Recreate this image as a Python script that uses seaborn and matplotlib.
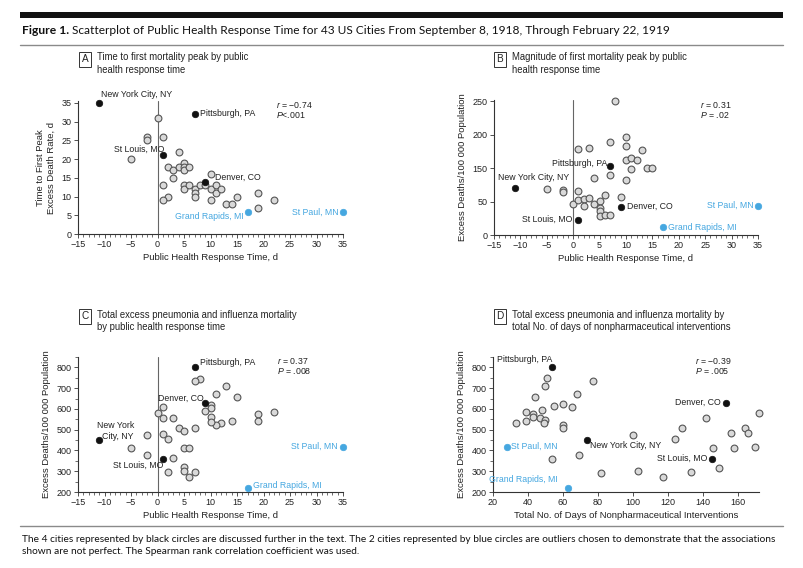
import matplotlib
matplotlib.use("Agg")
import matplotlib.pyplot as plt
import seaborn as sns
from matplotlib.patches import Rectangle
from matplotlib.lines import Line2D
from matplotlib.ticker import MultipleLocator

W, H = 804, 568

# ---- data ----
black_cities = ["New York City, NY", "Pittsburgh, PA", "St Louis, MO", "Denver, CO"]
blue_cities = ["Grand Rapids, MI", "St Paul, MN"]

# Panel A: response time (d) vs time to first peak (d)
a_gray_x = [0, -2, -2, 1, -5, 4, 2, 3, 4, 5, 5, 5, 6, 3, 10, 1, 5, 5, 6, 7, 7, 7,
            8, 9, 10, 11, 11, 12, 2, 1, 10, 15, 13, 14, 19, 19, 22]
a_gray_y = [31, 26, 25, 26, 20, 22, 18, 17, 18, 19, 18, 17, 18, 15, 16, 13, 13, 12,
            13, 12, 11, 10, 13, 13, 12, 13, 11, 12, 10, 9, 9, 10, 8, 8, 11, 7, 9]
a_black_x = [-11, 7, 1, 9]
a_black_y = [35, 32, 21, 14]
a_blue_x = [17, 35]
a_blue_y = [6, 6]

# Panel B: response time vs magnitude of first peak (y on the printed tick grid)
b_gray_x = [-5, -2, -2, 0, 1, 1, 1, 3, 2, 2, 3, 4, 4, 5, 5, 5, 5, 6, 6, 7, 7, 7,
            8, 10, 10, 13, 10, 11, 12, 11, 14, 15, 10, 9]
b_gray_y = [69.5, 67.5, 65, 46, 66, 52.5, 128.5, 129.5, 54.5, 44, 55, 86, 46, 51,
            41, 36.5, 28.5, 59.5, 29.5, 30.5, 139, 89.5, 201, 146.5, 132.5, 127.5,
            112.5, 114.5, 112.5, 98.5, 100.5, 100.5, 82, 57.5]
b_black_x = [-11, 7, 1, 9]
b_black_y = [71, 103.5, 23, 42.5]
b_blue_x = [17, 35]
b_blue_y = [11.5, 43.5]
b_ytick_pos = [0, 50, 100, 150, 200]
b_ytick_labels = ["0", "50", "150", "200", "250"]

# Panel C: response time vs total excess P&I deaths
c_gray_x = [8, 7, 13, 11, 15, 10, 10, 9, 1, 0, 1, 3, 10, 19, 22, 19, 14, 12, 11,
            10, 7, 4, 5, -2, 1, 2, -5, 5, 6, -2, 3, 5, 5, 7, 2, 6]
c_gray_y = [746, 733, 710, 672, 656, 618, 606, 592, 611, 581, 557, 555, 562, 576,
            585, 541, 541, 531, 524, 535, 509, 506, 495, 475, 481, 454, 414, 414,
            410, 378, 362, 318, 300, 298, 298, 274]
c_black_x = [-11, 7, 1, 9]
c_black_y = [451, 800, 360, 627]
c_blue_x = [17, 35]
c_blue_y = [221, 418]

# Panel D: days of interventions vs total excess P&I deaths
d_gray_x = [51, 50, 77, 68, 44, 55, 60, 65, 48, 39, 43, 43, 47, 50, 49, 33, 39, 60,
            60, 54, 69, 100, 82, 103, 117, 124, 128, 142, 133, 146, 149, 156, 158,
            164, 166, 170, 172]
d_gray_y = [747, 709, 734, 672, 656, 613, 622, 610, 594, 587, 576, 560, 557, 547,
            533, 534, 544, 525, 510, 360, 378, 475, 293, 299, 272, 453, 509, 557,
            296, 410, 317, 486, 414, 509, 485, 418, 581]
d_black_x = [74, 54, 145, 153]
d_black_y = [451, 800, 360, 629]
d_blue_x = [63, 28]
d_blue_y = [221, 418]

GRAY_FILL = "#d9d9d9"
GRAY_EDGE = "#555555"
BLUE = "#45a7e0"
TXT = "#222222"
FS_NOTE = 6.3     # point labels and r / P
FS_TICK = 6.5
FS_AXLAB = 6.8
FS_TITLE = 6.85

sns.set_theme(style="ticks")
plt.rcParams['font.family'] = ['Liberation Sans', 'DejaVu Sans']
plt.rcParams['mathtext.fontset'] = 'custom'
plt.rcParams['mathtext.rm'] = 'Liberation Sans'
plt.rcParams['mathtext.it'] = 'Liberation Sans:italic'
plt.rcParams['axes.unicode_minus'] = True

CAP_FONT = ['Lato', 'DejaVu Sans']

fig = plt.figure(figsize=(W / 100, H / 100), dpi=100)
fig.patch.set_facecolor("white")


def fx(x):
    return x / W


def fy(y):
    return 1 - y / H


def add_axes_px(left, top, right, bottom):
    return fig.add_axes([fx(left), fy(bottom), (right - left) / W, (bottom - top) / H])


def style_axes(ax):
    sns.despine(ax=ax)
    for sp in ["left", "bottom"]:
        ax.spines[sp].set_color("#333333")
        ax.spines[sp].set_linewidth(0.8)
    ax.tick_params(which="major", direction="out", length=3, width=0.6,
                   color="#333333", labelsize=FS_TICK, labelcolor=TXT, pad=1.5)
    ax.tick_params(which="minor", direction="out", length=2, width=0.5, color="#333333")
    ax.set_facecolor("white")


def draw_points(ax, gx, gy, kx, ky, bx, by):
    sns.scatterplot(x=gx, y=gy, ax=ax, s=24, color=GRAY_FILL, edgecolor=GRAY_EDGE,
                    linewidth=0.8, zorder=3, clip_on=False, legend=False)
    sns.scatterplot(x=kx, y=ky, ax=ax, s=22, color="#111111", edgecolor="#111111",
                    linewidth=0.5, zorder=4, clip_on=False, legend=False)
    sns.scatterplot(x=bx, y=by, ax=ax, s=22, color=BLUE, edgecolor=BLUE,
                    linewidth=0.5, zorder=4, clip_on=False, legend=False)


def label(ax, x, y, s, ha="left", color=TXT):
    ax.text(x, y, s, ha=ha, va="center", fontsize=FS_NOTE, color=color, clip_on=False,
            zorder=5)


def panel_header(letter, bx, by, title):
    fig.text(fx(bx), fy(by), letter, ha="center", va="center", fontsize=7.2, color=TXT,
             bbox=dict(boxstyle="square,pad=0.25", fc="white", ec="#333333", lw=0.7))
    fig.text(fx(bx + 12), fy(by - 6.5), title, ha="left", va="top", fontsize=FS_TITLE,
             color=TXT, linespacing=1.3)


def axis_labels(ax, xl, yl):
    ax.set_xlabel(xl, fontsize=FS_AXLAB, color=TXT, labelpad=3)
    ax.set_ylabel(yl, fontsize=FS_AXLAB, color=TXT, labelpad=4, linespacing=1.3)


# ---- Panel A ----
axA = add_axes_px(78, 101, 343, 234)
draw_points(axA, a_gray_x, a_gray_y, a_black_x, a_black_y, a_blue_x, a_blue_y)
axA.axvline(0, color="#666666", lw=0.8, zorder=1)
axA.set_xlim(-15, 35)
axA.set_ylim(0, 35.5)
axA.set_xticks(range(-15, 36, 5))
axA.set_yticks(range(0, 36, 5))
axA.xaxis.set_minor_locator(MultipleLocator(1))
style_axes(axA)
axis_labels(axA, "Public Health Response Time, d", "Time to First Peak\nExcess Death Rate, d")
label(axA, -10.6, 37.2, black_cities[0])
label(axA, 8.0, 32.1, black_cities[1])
label(axA, 1.3, 22.6, black_cities[2], ha="right")
label(axA, 10.8, 15.0, black_cities[3])
label(axA, 16.2, 4.6, blue_cities[0], ha="right", color=BLUE)
label(axA, 34.1, 5.8, blue_cities[1], ha="right", color=BLUE)
label(axA, 22.3, 34.5, "$r$ = \u22120.74")
label(axA, 22.3, 31.7, "$P$<.001")
panel_header("A", 85, 59, "Time to first mortality peak by public\nhealth response time")

# ---- Panel B ----
axB = add_axes_px(494, 100, 758, 235)
draw_points(axB, b_gray_x, b_gray_y, b_black_x, b_black_y, b_blue_x, b_blue_y)
axB.axvline(0, color="#666666", lw=0.8, zorder=1)
axB.set_xlim(-15, 35)
axB.set_ylim(0, 202)
axB.set_xticks(range(-15, 36, 5))
axB.set_yticks(b_ytick_pos)
axB.set_yticklabels(b_ytick_labels)
axB.xaxis.set_minor_locator(MultipleLocator(1))
style_axes(axB)
axis_labels(axB, "Public Health Response Time, d", "Excess Deaths/100 000 Population")
label(axB, -14.3, 86, black_cities[0])
label(axB, 6.4, 107.5, black_cities[1], ha="right")
label(axB, -0.1, 23.5, black_cities[2], ha="right")
label(axB, 10.2, 43, black_cities[3])
label(axB, 18.0, 11, blue_cities[0], color=BLUE)
label(axB, 34.2, 45, blue_cities[1], ha="right", color=BLUE)
label(axB, 24, 195, "$r$ = 0.31")
label(axB, 24, 179, "$P$ = .02")
panel_header("B", 500, 59, "Magnitude of first mortality peak by public\nhealth response time")

# ---- Panel C ----
axC = add_axes_px(78, 357, 343, 492)
draw_points(axC, c_gray_x, c_gray_y, c_black_x, c_black_y, c_blue_x, c_blue_y)
axC.axvline(0, color="#666666", lw=0.8, zorder=1)
axC.set_xlim(-15, 35)
axC.set_ylim(200, 850)
axC.set_xticks(range(-15, 36, 5))
axC.set_yticks(range(200, 801, 100))
axC.xaxis.set_minor_locator(MultipleLocator(1))
axC.yaxis.set_minor_locator(MultipleLocator(50))
style_axes(axC)
axis_labels(axC, "Public Health Response Time, d", "Excess Deaths/100 000 Population")
label(axC, -11.5, 520, "New York")
label(axC, -10.4, 467, "City, NY")
label(axC, 8.0, 824, black_cities[1])
label(axC, 1.1, 328, black_cities[2], ha="right")
label(axC, 8.7, 651, black_cities[3], ha="right")
label(axC, 18.0, 232, blue_cities[0], color=BLUE)
label(axC, 33.9, 418, blue_cities[1], ha="right", color=BLUE)
label(axC, 22.5, 830, "$r$ = 0.37")
label(axC, 22.5, 782, "$P$ = .008")
panel_header("C", 85, 316, "Total excess pneumonia and influenza mortality\nby public health response time")

# ---- Panel D ----
axD = add_axes_px(493, 357, 759, 492)
draw_points(axD, d_gray_x, d_gray_y, d_black_x, d_black_y, d_blue_x, d_blue_y)
axD.set_xlim(20, 172)
axD.set_ylim(200, 850)
axD.set_xticks(range(20, 161, 20))
axD.set_yticks(range(200, 801, 100))
axD.yaxis.set_minor_locator(MultipleLocator(50))
style_axes(axD)
axis_labels(axD, "Total No. of Days of Nonpharmaceutical Interventions",
            "Excess Deaths/100 000 Population")
label(axD, 75.6, 424, black_cities[0])
label(axD, 22.3, 840, black_cities[1])
label(axD, 142.3, 362, black_cities[2], ha="right")
label(axD, 150, 634, black_cities[3], ha="right")
label(axD, 57.1, 258, blue_cities[0], ha="right", color=BLUE)
label(axD, 30.5, 418, blue_cities[1], color=BLUE)
label(axD, 135.2, 830, "$r$ = \u22120.39")
label(axD, 135.2, 782, "$P$ = .005")
panel_header("D", 500, 316, "Total excess pneumonia and influenza mortality by\ntotal No. of days of nonpharmaceutical interventions")

# ---- caption frame ----
fig.add_artist(Rectangle((fx(20), fy(18)), (783 - 20) / W, 6 / H, transform=fig.transFigure,
                         facecolor="#111111", edgecolor="none"))
fig.add_artist(Line2D([fx(20), fx(783)], [fy(45), fy(45)], transform=fig.transFigure,
                      color="#8a8a8a", lw=1.0))
fig.add_artist(Line2D([fx(20), fx(783)], [fy(526), fy(526)], transform=fig.transFigure,
                      color="#8a8a8a", lw=1.0))

t1 = fig.text(fx(22), fy(31), "Figure 1.", ha="left", va="center", fontsize=8.7,
              fontweight="bold", family=CAP_FONT, color="#111111")
fig.canvas.draw()
bb = t1.get_window_extent()
fig.text(bb.x1 / W + 3 / W, fy(31),
         "Scatterplot of Public Health Response Time for 43 US Cities From September 8, 1918, Through February 22, 1919",
         ha="left", va="center", fontsize=8.6, family=CAP_FONT, color="#111111")

fig.text(fx(22), fy(539),
         "The 4 cities represented by black circles are discussed further in the text. The 2 cities represented by blue circles are outliers chosen to demonstrate that the associations",
         ha="left", va="center", fontsize=7.3, family=CAP_FONT, color="#111111")
fig.text(fx(22), fy(552),
         "shown are not perfect. The Spearman rank correlation coefficient was used.",
         ha="left", va="center", fontsize=7.3, family=CAP_FONT, color="#111111")

fig.savefig("out.png", dpi=100, facecolor="white")
